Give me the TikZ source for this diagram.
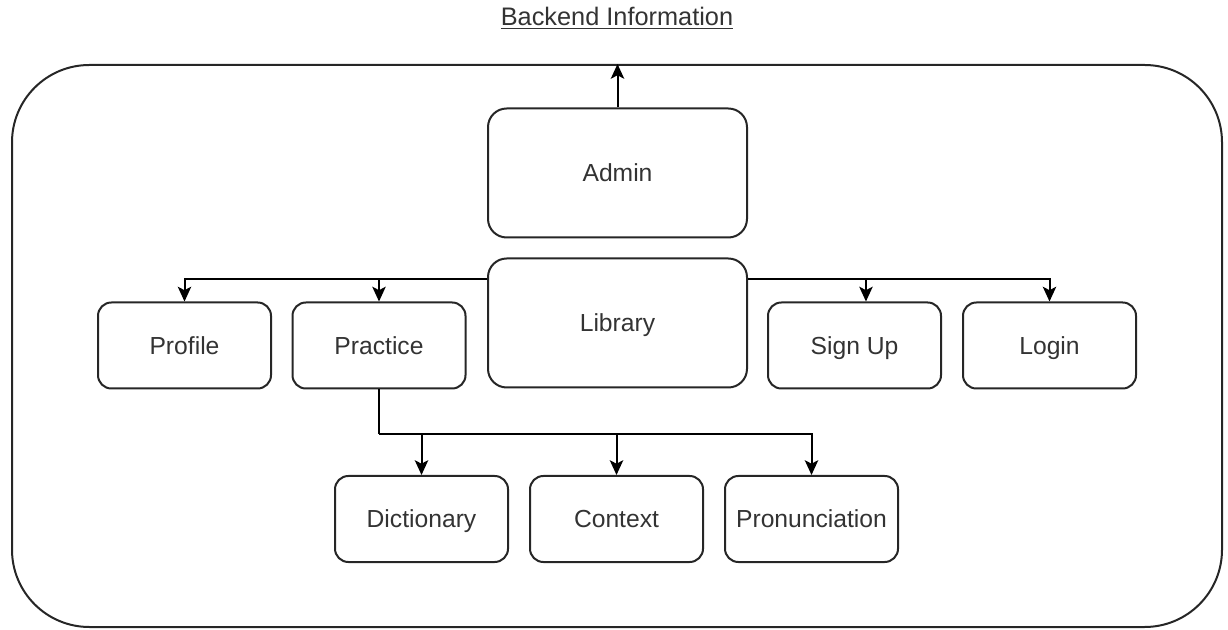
\documentclass[tikz,border=0pt]{standalone}
\usepackage{fontspec}
\setmainfont{Liberation Sans}
\usetikzlibrary{arrows.meta,calc}
\begin{document}
\begin{tikzpicture}[x=0.75pt,y=-0.75pt,
  line width=1.5pt,
  txt/.style={text=black!80,font=\fontsize{18.5}{22}\selectfont,text height=13.4pt,text depth=0pt},
  box/.style={draw=black!85,rectangle,rounded corners=10pt,txt,inner sep=0pt,
    minimum width=129.75pt,minimum height=64.5pt},
  bigbox/.style={box,rounded corners=14pt,minimum width=194.25pt,minimum height=96.75pt},
  conn/.style={draw=black,-{Stealth[length=11pt,width=10pt,inset=2.5pt]}},
  plain/.style={draw=black}]
\useasboundingbox (0,0) rectangle (1228,630);
\node[draw=black!85,rectangle,rounded corners=58pt,minimum width=907.5pt,minimum height=421.5pt,inner sep=0pt] (frame) at (617,346) {};
\node[text=black!80,font=\fontsize{19}{22}\selectfont] (title) at (617,18) {\underline{Backend Information}};
\node[bigbox] (admin) at (617.5,173) {Admin};
\node[bigbox] (library) at (617.5,323) {Library};
\node[box] (profile) at (184.5,345.5) {Profile};
\node[box] (practice) at (379,345.5) {Practice};
\node[box] (signup) at (854.5,345.5) {Sign Up};
\node[box] (login) at (1049.5,345.5) {Login};
\node[box] (dict) at (421.5,519) {Dictionary};
\node[box] (context) at (616.5,519) {Context};
\node[box] (pron) at (811.5,519) {Pronunciation};
\draw[conn] (admin.north) -- (admin.north |- frame.north);
\coordinate (lw) at ([yshift=-16.5pt]library.north west);
\coordinate (le) at ([yshift=-16.5pt]library.north east);
\draw[conn] (lw) -| (profile.north);
\draw[conn] (lw) -| (practice.north);
\draw[conn] (le) -| ([xshift=8.6pt]signup.north);
\draw[conn] (le) -| (login.north);
\coordinate (pj) at ($(practice.south)+(0,45)$);
\draw[plain] (practice.south) -- (pj);
\draw[conn] (pj) -| (dict.north);
\draw[conn] (pj) -| (context.north);
\draw[conn] (pj) -| (pron.north);
\end{tikzpicture}
\end{document}
